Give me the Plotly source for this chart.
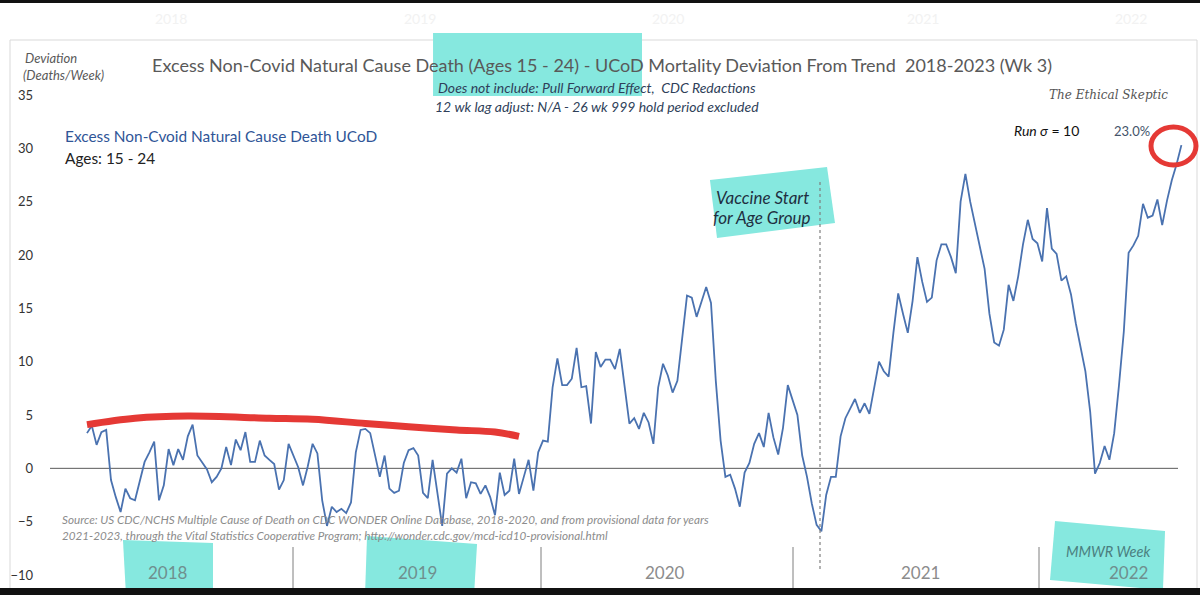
import plotly.graph_objects as go

# weekly deviation from trend, ages 15-24 (week 0 = first plotted week of 2018)
deviation = [
    3.3, 4.0, 2.2, 3.4, 3.6, -1.1, -2.7, -4.1, -1.9, -2.8,
    -3.0, -1.3, 0.6, 1.5, 2.5, -3.0, -1.6, 1.8, 0.3, 1.8,
    0.8, 3.0, 4.1, 1.2, 0.6, -0.1, -1.3, -0.8, 0.0, 2.0,
    0.3, 2.7, 1.7, 3.4, 0.6, 0.6, 2.6, 1.2, 0.8, 0.4,
    -2.0, -1.1, 2.3, 1.2, 0.1, -1.6, 0.2, 2.3, 1.4, -3.0,
    -5.4, -3.6, -4.1, -3.8, -4.2, -3.2, 1.5, 3.6, 3.7, 3.3,
    1.2, -0.8, 1.2, -1.9, -2.3, -2.1, 0.5, 1.7, 1.9, 1.2,
    -2.3, -2.8, 0.8, -2.1, -5.4, -0.5, 0.0, -0.4, 0.9, -2.8,
    -1.3, -1.4, -2.4, -1.6, -2.7, -4.4, -0.4, -2.5, -2.1, 0.9,
    -2.4, -0.8, 0.8, -2.1, 1.5, 2.6, 2.5, 7.6, 10.3, 7.8,
    7.8, 8.4, 11.3, 7.6, 7.7, 4.2, 10.9, 9.5, 10.2, 10.2,
    9.3, 11.2, 7.7, 4.2, 4.7, 3.7, 5.2, 4.3, 2.3, 7.6,
    9.8, 8.7, 7.1, 8.2, 12.2, 16.2, 16.0, 14.2, 15.6, 17.0,
    15.5, 8.2, 2.6, -0.8, -0.6, -1.9, -3.6, -0.4, 0.5, 2.3,
    3.3, 2.0, 5.2, 2.9, 1.3, 3.8, 7.8, 6.4, 5.0, 1.2,
    -0.8, -3.3, -5.3, -5.9, -2.5, -0.8, -0.8, 3.0, 4.7, 5.6,
    6.5, 5.2, 6.1, 5.1, 7.5, 10.0, 9.1, 8.6, 12.7, 16.4,
    14.5, 12.7, 15.7, 19.8, 17.5, 15.6, 16.0, 19.5, 21.0, 21.0,
    19.8, 18.3, 25.0, 27.6, 25.0, 23.0, 20.8, 18.7, 14.5, 11.8,
    11.5, 13.0, 17.2, 15.7, 18.0, 21.0, 23.3, 21.5, 21.1, 19.4,
    24.4, 20.6, 20.1, 17.6, 18.0, 16.3, 13.6, 11.4, 9.1, 5.3,
    -0.5, 0.5, 2.1, 0.8, 3.3, 7.8, 12.8, 20.2, 20.9, 21.8,
    24.8, 23.5, 23.7, 25.2, 22.8, 25.1, 27.0, 28.5, 30.3,
]
week = list(range(len(deviation)))

# hand drawn red "baseline" marker over 2018-2019
red_week = [0, 10, 21, 38, 47, 58, 67, 77, 85, 90]
red_level = [4.1, 4.7, 4.9, 4.7, 4.6, 4.2, 3.9, 3.6, 3.4, 3.0]

years = ["2018", "2019", "2020", "2021", "2022"]
year_x = [168, 417, 665, 920, 1128]       # label centres (px)
year_dividers = [293, 541, 793, 1039]     # px

W, H = 1200, 595
L, R, T, B = 50, 10, 95, 20
PXW = 4.8  # px per week in the reference


def px(x):
    return (x - L) / (W - L - R)


def py(y):
    return (H - B - y) / (H - T - B)


def poly(pts):
    return "M " + " L ".join(f"{px(a):.4f},{py(b):.4f}" for a, b in pts) + " Z"


FONT = "Lato"
GREY = "#595959"
CYAN = "#86E8DF"

fig = go.Figure()
fig.add_trace(go.Scatter(
    x=week, y=deviation, mode="lines",
    line=dict(color="#4a72b0", width=1.8),
    hoverinfo="skip", showlegend=False,
))
fig.add_trace(go.Scatter(
    x=red_week, y=red_level, mode="lines",
    line=dict(color="#e53935", width=7, shape="spline"),
    hoverinfo="skip", showlegend=False,
))

shapes = [
    # outer light frame
    dict(type="rect", xref="paper", yref="paper", x0=px(10), x1=px(1197), y0=py(40), y1=py(600),
         line=dict(color="#d9d9d9", width=1), layer="below"),
    # cyan highlighter marks
    dict(type="path", xref="paper", yref="paper", path=poly([(433, 33), (642, 33), (642, 96), (433, 96)]),
         fillcolor=CYAN, line=dict(width=0), layer="below"),
    dict(type="path", xref="paper", yref="paper", path=poly([(123, 540), (213, 543), (213, 596), (126, 596)]),
         fillcolor=CYAN, line=dict(width=0), layer="below"),
    dict(type="path", xref="paper", yref="paper", path=poly([(367, 536), (477, 544), (474, 596), (365, 596)]),
         fillcolor=CYAN, line=dict(width=0), layer="below"),
    dict(type="path", xref="paper", yref="paper", path=poly([(710, 180), (827, 167), (835, 223), (717, 238)]),
         fillcolor=CYAN, line=dict(width=0), layer="below"),
    dict(type="path", xref="paper", yref="paper", path=poly([(1055, 521), (1165, 531), (1163, 590), (1050, 580)]),
         fillcolor=CYAN, line=dict(width=0), layer="below"),
    # zero line
    dict(type="line", xref="paper", yref="y", x0=px(50), x1=px(1178), y0=0, y1=0,
         line=dict(color=GREY, width=1), layer="below"),
    # vaccine start marker
    dict(type="line", xref="paper", yref="paper", x0=px(820), x1=px(820), y0=py(182), y1=py(570),
         line=dict(color="#7f7f7f", width=1.2, dash="dot")),
    # red circle around the last week
    dict(type="circle", xref="paper", yref="paper", x0=px(1151), x1=px(1196), y0=py(165), y1=py(127),
         line=dict(color="#e53935", width=5)),
    # black strips of the screenshot
    dict(type="rect", xref="paper", yref="paper", x0=px(0), x1=px(W), y0=py(0), y1=py(3),
         fillcolor="#111111", line=dict(width=0)),
    dict(type="rect", xref="paper", yref="paper", x0=px(0), x1=px(W), y0=py(588), y1=py(H),
         fillcolor="#111111", line=dict(width=0)),
]
for d in year_dividers:
    shapes.append(dict(type="line", xref="paper", yref="paper", x0=px(d), x1=px(d), y0=py(547), y1=py(588),
                       line=dict(color="#7f7f7f", width=1)))

annotations = []


def note(text, x, y, size=13, color=GREY, xanchor="left", family=FONT):
    annotations.append(dict(text=text, x=px(x), y=py(y), xref="paper", yref="paper",
                            xanchor=xanchor, yanchor="middle", showarrow=False,
                            font=dict(family=family, size=size, color=color)))


note("<i>Deviation</i>", 23, 58, 13)
note("<i>(Deaths/Week)</i>", 21, 75, 13)
note("Excess Non-Covid Natural Cause Death (Ages 15 - 24) - UCoD Mortality Deviation From Trend  2018-2023 (Wk 3)",
     150, 65, 18)
note("<i>Does not include: Pull Forward Effect,  CDC Redactions</i>", 597, 88, 14, "#2f3f5a", "center")
note("<i>12 wk lag adjust: N/A - 26 wk 999 hold period excluded</i>", 597, 106, 14, "#2f3f5a", "center")
note("<i>The Ethical Skeptic</i>", 1170, 95, 12, "#555555", "right", "DejaVu Serif")
note("Excess Non-Cvoid Natural Cause Death UCoD", 63, 136, 15.4, "#2f5597")
note("Ages: 15 - 24", 63, 158, 15.4, "#222222")
note("<i>Run σ</i> = 10", 1012, 131, 14, "#111111")
note("23.0%", 1112, 131, 13, "#44546a")
note("<i>Vaccine Start</i>", 762, 197, 17, "#1f2f3f", "center")
note("<i>for Age Group</i>", 762, 217, 17, "#1f2f3f", "center")
note("<i>MMWR Week</i>", 1108, 551, 14.5, "#4b7f80", "center")
note("<i>Source: US CDC/NCHS Multiple Cause of Death on CDC WONDER Online Database, 2018-2020, "
     "and from provisional data for years</i>", 60, 519, 11.7, "#8c8c8c")
note("<i>2021-2023, through the Vital Statistics Cooperative Program; "
     "http://wonder.cdc.gov/mcd-icd10-provisional.html</i>", 60, 535, 11.7, "#8c8c8c")
for yr, xc in zip(years, year_x):
    note(yr, xc, 572, 17, "#6f8f8e" if yr in ("2018", "2019", "2022") else "#8c8c8c", "center")
    note(yr, xc + 3, 18, 14, "#f2f2f2", "center")

fig.update_layout(
    width=W, height=H,
    margin=dict(l=L, r=R, t=T, b=B),
    paper_bgcolor="white", plot_bgcolor="white",
    font=dict(family=FONT, color="#404040"),
    shapes=shapes, annotations=annotations,
    xaxis=dict(range=[(L - 87) / PXW, (W - R - 87) / PXW], visible=False, fixedrange=True),
    yaxis=dict(range=[-10, 35], tickvals=[-10, -5, 0, 5, 10, 15, 20, 25, 30, 35],
               showgrid=False, zeroline=False, showline=False, ticks="",
               ticklabelstandoff=16, tickfont=dict(size=13, color="#333333")),
)

fig.write_html("out.html", config={"displayModeBar": False},
               post_script="document.body.style.margin='0px';document.body.style.overflow='hidden';")
